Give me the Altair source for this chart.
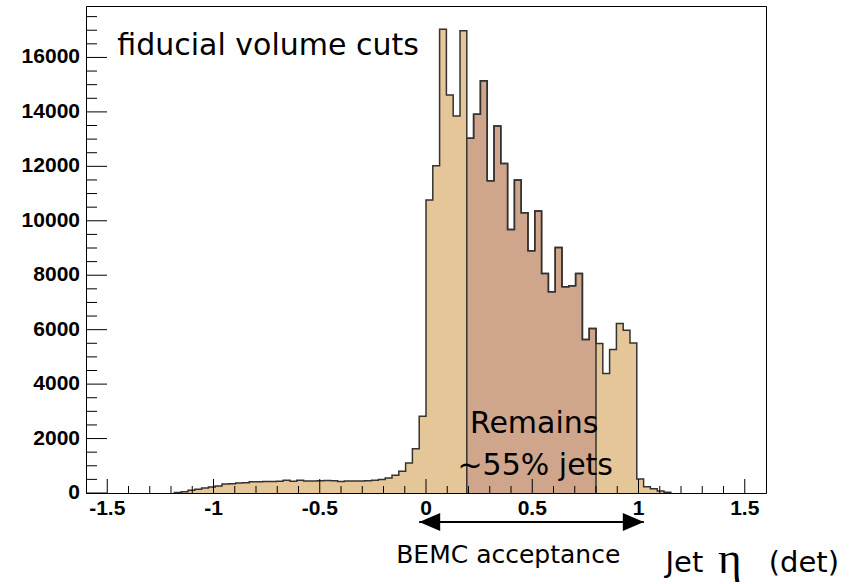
import altair as alt
import pandas as pd

# Histogram binning: 100 bins over detector eta [-1.6, 1.6]
ETA_MIN, ETA_MAX, N_BINS = -1.6, 1.6, 100

# Jet counts per bin (bin 0 starts at eta = -1.6)
COUNTS = [
    0, 0, 0, 0, 0, 0, 0, 0, 0, 0,
    0, 0, 0, 20, 45, 100, 135, 180, 220, 255,
    330, 340, 370, 380, 410, 415, 420, 425, 430, 465,
    430, 465, 440, 440, 450, 455, 450, 425, 440, 440,
    445, 450, 465, 500, 550, 648, 800, 1100, 1627, 2820,
    10760, 12021, 17034, 14619, 13848, 16985, 13028, 13910, 15145, 11469,
    13480, 12108, 9683, 11494, 10293, 8896, 10355, 8065, 7389, 9021,
    7573, 7609, 8065, 5639, 6043, 5492, 4389, 5271, 6227, 5981,
    5514, 510, 230, 160, 75, 25, 0, 0, 0, 0,
    0, 0, 0, 0, 0, 0, 0, 0, 0, 0,
]

# Bins surviving the fiducial volume cuts
KEPT_FIRST, KEPT_LAST = 56, 74

X_MAJOR = [-1.5, -1, -0.5, 0, 0.5, 1, 1.5]
X_LABELS = ["-1.5", "-1", "-0.5", "0", "0.5", "1", "1.5"]
Y_MAJOR = [0, 2000, 4000, 6000, 8000, 10000, 12000, 14000, 16000]
Y_LABELS = ["0", "2000", "4000", "6000", "8000", "10000", "12000", "14000", "16000"]
Y_MAX = 17890

# BEMC acceptance arrow span (eta of arrow tips)
ARROW_SPAN = [-0.032, 1.025]

W, H = 680, 487
LIGHT = "#e4c698"
DARK = "#cfa68c"
OUTLINE = "#353331"
TEXT_FONT = "DejaVu Sans"
AXIS_FONT = "Liberation Sans"

bw = (ETA_MAX - ETA_MIN) / N_BINS
edges = [ETA_MIN + i * bw for i in range(N_BINS + 1)]


def step_frame(first, last):
    rows = [{"eta": edges[first], "n": 0}]
    rows += [{"eta": edges[k], "n": COUNTS[k]} for k in range(first, last + 1)]
    rows.append({"eta": edges[last + 1], "n": 0})
    return pd.DataFrame(rows)


nonzero = [k for k, c in enumerate(COUNTS) if c > 0]
full = step_frame(nonzero[0], nonzero[-1])
kept = step_frame(KEPT_FIRST, KEPT_LAST)

xs = alt.Scale(domain=[ETA_MIN, ETA_MAX], nice=False, zero=False)
ys = alt.Scale(domain=[0, Y_MAX], nice=False)
X = lambda f="eta": alt.X(f"{f}:Q", scale=xs, axis=None)
Y = lambda f="n": alt.Y(f"{f}:Q", scale=ys, axis=None)

full_area = alt.Chart(full).mark_area(interpolate="step-after", color=LIGHT).encode(x=X(), y=Y())
kept_area = alt.Chart(kept).mark_area(interpolate="step-after", color=DARK).encode(x=X(), y=Y())
full_line = alt.Chart(full).mark_line(interpolate="step-after", color=OUTLINE,
                                      strokeWidth=1.5).encode(x=X(), y=Y())
kept_line = alt.Chart(kept).mark_line(interpolate="step-after", color=OUTLINE,
                                      strokeWidth=1.5).encode(x=X(), y=Y())

# Inward ticks on the bottom and left axes
x_minor = [round(-1.5 + 0.1 * i, 1) for i in range(31)]
x_minor = [v for v in x_minor if v not in X_MAJOR]
y_minor = [500 * i for i in range(36) if (500 * i) % 2000 != 0]

xt_major = alt.Chart(pd.DataFrame({"eta": X_MAJOR})).mark_rule(color="black", strokeWidth=1).encode(
    x=X(), y=alt.value(H), y2=alt.value(H - 14))
xt_minor = alt.Chart(pd.DataFrame({"eta": x_minor})).mark_rule(color="black", strokeWidth=1).encode(
    x=X(), y=alt.value(H), y2=alt.value(H - 7))
yt_major = alt.Chart(pd.DataFrame({"n": Y_MAJOR})).mark_rule(color="black", strokeWidth=1).encode(
    y=Y(), x=alt.value(0), x2=alt.value(21))
yt_minor = alt.Chart(pd.DataFrame({"n": y_minor})).mark_rule(color="black", strokeWidth=1).encode(
    y=Y(), x=alt.value(0), x2=alt.value(11))

# Tick labels
x_lab = alt.Chart(pd.DataFrame({"eta": X_MAJOR, "t": X_LABELS})).mark_text(
    font=AXIS_FONT, fontWeight="bold", fontSize=21, align="center", baseline="middle",
    color="black").encode(x=X(), y=alt.value(H + 16), text="t:N")
y_lab = alt.Chart(pd.DataFrame({"n": Y_MAJOR, "t": Y_LABELS})).mark_text(
    font=AXIS_FONT, fontWeight="bold", fontSize=21, align="right", baseline="middle",
    color="black").encode(y=Y(), x=alt.value(-6), text="t:N")

# Text inside the frame
text_left = alt.Chart(pd.DataFrame({"eta": [-1.453], "n": [16090], "t": ["fiducial volume cuts"]})).mark_text(
    font=TEXT_FONT, fontSize=30, align="left", baseline="alphabetic", color="black").encode(
    x=X(), y=Y(), text="t:N")
text_center = alt.Chart(pd.DataFrame({"eta": [0.509, 0.514], "n": [2195, 651],
                                      "t": ["Remains", "~55% jets"]})).mark_text(
    font=TEXT_FONT, fontSize=30, align="center", baseline="alphabetic", color="black").encode(
    x=X(), y=Y(), text="t:N")

# BEMC acceptance arrow below the axis
ARROW_Y = 516
head = 21
shaft = alt.Chart(pd.DataFrame({"a": [ARROW_SPAN[0]], "b": [ARROW_SPAN[1]]})).mark_rule(
    color="black", strokeWidth=2).encode(x=X("a"), x2="b:Q", y=alt.value(ARROW_Y))
head_l = alt.Chart(pd.DataFrame({"eta": [ARROW_SPAN[0]]})).mark_point(
    shape="M -1 0 L 1 -0.86 L 1 0.86 Z", size=head * head, filled=True, opacity=1,
    color="black", xOffset=head / 2).encode(x=X(), y=alt.value(ARROW_Y))
head_r = alt.Chart(pd.DataFrame({"eta": [ARROW_SPAN[1]]})).mark_point(
    shape="M 1 0 L -1 -0.86 L -1 0.86 Z", size=head * head, filled=True, opacity=1,
    color="black", xOffset=-head / 2).encode(x=X(), y=alt.value(ARROW_Y))

bemc = alt.Chart(pd.DataFrame({"eta": [0.387], "t": ["BEMC acceptance"]})).mark_text(
    font=TEXT_FONT, fontSize=25, align="center", baseline="alphabetic", color="black").encode(
    x=X(), y=alt.value(557), text="t:N")

# Axis title: Jet η (det)
title_txt = alt.Chart(pd.DataFrame({"eta": [1.127, 1.613], "t": ["Jet", "(det)"]})).mark_text(
    font=TEXT_FONT, fontSize=29, align="left", baseline="alphabetic", color="black").encode(
    x=X(), y=alt.value(566), text="t:N")
title_eta = alt.Chart(pd.DataFrame({"eta": [1.429], "t": ["η"]})).mark_text(
    font="Liberation Serif", fontSize=45, align="center", baseline="alphabetic", color="black").encode(
    x=X(), y=alt.value(567), text="t:N")

chart = alt.layer(
    full_area, kept_area, full_line, kept_line,
    xt_major, xt_minor, yt_major, yt_minor, x_lab, y_lab,
    text_left, text_center, shaft, head_l, head_r, bemc, title_txt, title_eta,
).properties(
    width=W, height=H,
    autosize=alt.AutoSizeParams(type="none"),
    padding={"left": 86, "top": 6, "right": 84, "bottom": 91},
    background="white",
).configure_view(stroke="black", strokeWidth=1)

chart.save("out.html", embed_options={"renderer": "svg", "actions": False})
